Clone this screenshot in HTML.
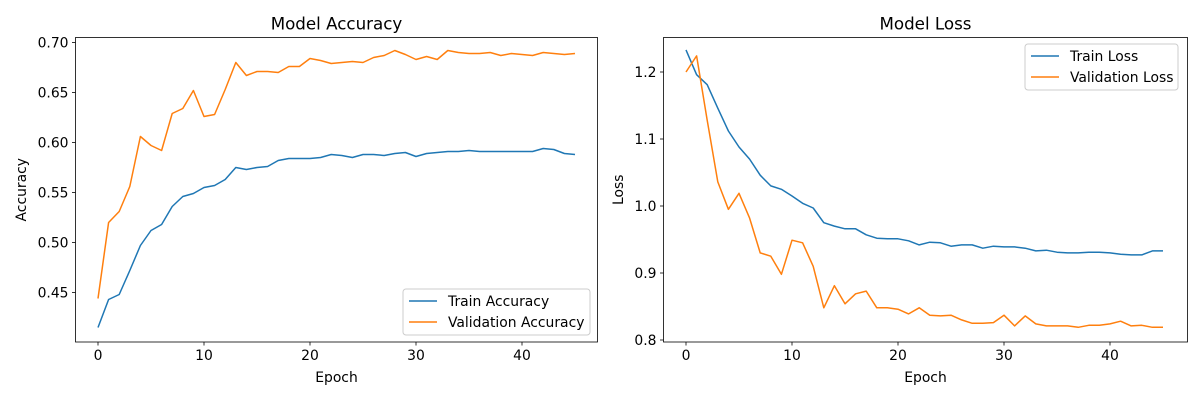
<!DOCTYPE html>
<html><head><meta charset="utf-8"><style>
body{margin:0;background:#fff;}
svg text{font-family:"DejaVu Sans","Liberation Sans",sans-serif;fill:#000;}
</style></head><body>
<svg id="fig" width="1200" height="400" xmlns="http://www.w3.org/2000/svg"></svg>
<script>
const epochs = Array.from({length:46},(_,i)=>i);
const trainAcc=[0.415,0.443,0.448,0.472,0.497,0.512,0.518,0.536,0.546,0.549,0.555,0.557,0.563,0.575,0.573,0.575,0.576,0.582,0.584,0.584,0.584,0.585,0.588,0.587,0.585,0.588,0.588,0.587,0.589,0.590,0.586,0.589,0.590,0.591,0.591,0.592,0.591,0.591,0.591,0.591,0.591,0.591,0.594,0.593,0.589,0.588];
const valAcc=[0.444,0.520,0.531,0.556,0.606,0.597,0.592,0.629,0.634,0.652,0.626,0.628,0.653,0.680,0.667,0.671,0.671,0.670,0.676,0.676,0.684,0.682,0.679,0.680,0.681,0.680,0.685,0.687,0.692,0.688,0.683,0.686,0.683,0.692,0.690,0.689,0.689,0.690,0.687,0.689,0.688,0.687,0.690,0.689,0.688,0.689];
const trainLoss=[1.233,1.196,1.181,1.146,1.112,1.088,1.070,1.046,1.030,1.025,1.015,1.004,0.997,0.975,0.970,0.966,0.966,0.957,0.952,0.951,0.951,0.948,0.942,0.946,0.945,0.940,0.942,0.942,0.937,0.940,0.939,0.939,0.937,0.933,0.934,0.931,0.930,0.930,0.931,0.931,0.930,0.928,0.927,0.927,0.933,0.933];
const valLoss=[1.200,1.224,1.128,1.036,0.995,1.019,0.982,0.930,0.925,0.898,0.949,0.945,0.910,0.848,0.881,0.854,0.869,0.873,0.848,0.848,0.846,0.839,0.848,0.837,0.836,0.837,0.830,0.825,0.825,0.826,0.837,0.821,0.836,0.824,0.821,0.821,0.821,0.819,0.822,0.822,0.824,0.828,0.821,0.822,0.819,0.819];
const xTicks=[0,10,20,30,40];
const accTicks=[0.45,0.50,0.55,0.60,0.65,0.70];
const lossTicks=[0.8,0.9,1.0,1.1,1.2];

const NS="http://www.w3.org/2000/svg";
const svg=document.getElementById('fig');
function el(tag,attrs,parent){const e=document.createElementNS(NS,tag);for(const k in attrs)e.setAttribute(k,attrs[k]);(parent||svg).appendChild(e);return e;}

function panel(o){
  const g=el('g',{});
  
  
  const xs=v=>o.x0+(v-0)*o.xk;
  const ys=v=>o.yRef+(o.vRef-v)*o.yk;
  // series
  o.series.forEach(s=>{
    const p=el('polyline',{points:s.data.map((v,i)=>xs(epochs[i]).toFixed(1)+','+ys(v).toFixed(1)).join(' '),fill:'none',stroke:s.color,'stroke-width':1.5,'stroke-linejoin':'round'},g);
    
    
  });
  // frame
  const f=el('rect',{x:o.L,y:o.T,width:o.R-o.L,height:o.B-o.T,fill:'none',stroke:'#000','stroke-width':0.8},g);
  
  
  xTicks.forEach(t=>{
    const x=xs(t);
    el('line',{x1:x,x2:x,y1:o.B,y2:o.B+3.5,stroke:'#000','stroke-width':0.8},g);
    const tx=el('text',{x:x,y:o.B+18,'text-anchor':'middle','font-size':13.9},g);
    tx.textContent=t;
    
    
  });
  o.yTicks.forEach(t=>{
    const y=ys(t);
    el('line',{x1:o.L-3.5,x2:o.L,y1:y,y2:y,stroke:'#000','stroke-width':0.8},g);
    const tx=el('text',{x:o.L-7,y:y+5,'text-anchor':'end','font-size':13.9},g);
    tx.textContent=t.toFixed(o.dec);
    
    
  });
  const ti=el('text',{x:(o.L+o.R)/2,y:o.T-8,'text-anchor':'middle','font-size':16.7},g);
  ti.textContent=o.title;
  
  
  const xl=el('text',{x:(o.L+o.R)/2,y:382,'text-anchor':'middle','font-size':13.9},g);
  xl.textContent='Epoch';
  
  
  const yl=el('text',{x:0,y:0,'text-anchor':'middle','font-size':13.9,transform:`translate(${o.ylx},${(o.T+o.B)/2}) rotate(-90)`},g);
  yl.textContent=o.ylabel;
  
  
  // legend
  const lg=el('g',{},g);
  
  
  el('rect',{x:o.lx,y:o.ly,width:o.lw,height:46,rx:3,fill:'#fff','fill-opacity':0.8,stroke:'#ccc','stroke-width':1},lg);
  o.series.forEach((s,i)=>{
    const yy=o.ly+12+i*21;
    const ln=el('line',{x1:o.lx+6,x2:o.lx+34,y1:yy,y2:yy,stroke:s.color,'stroke-width':1.5},lg);
    
    
    const t=el('text',{x:o.lx+45,y:yy+5,'font-size':13.9},lg);
    t.textContent=s.label;
    
    
  });
}
panel({name:'accuracy-chart',L:75.5,R:597.5,T:37.5,B:342,x0:98,xk:10.6,yRef:42.5,vRef:0.70,yk:1000,yTicks:accTicks,dec:2,title:'Model Accuracy',ylabel:'Accuracy',ylx:26,lx:403,ly:289,lw:187,
  series:[{id:'train-accuracy-line',data:trainAcc,color:'#1f77b4',label:'Train Accuracy'},{id:'validation-accuracy-line',data:valAcc,color:'#ff7f0e',label:'Validation Accuracy'}]});
panel({name:'loss-chart',L:663.5,R:1187.5,T:37.5,B:342,x0:686,xk:10.6,yRef:72,vRef:1.2,yk:670,yTicks:lossTicks,dec:1,title:'Model Loss',ylabel:'Loss',ylx:623,lx:1025,ly:44,lw:153,
  series:[{id:'train-loss-line',data:trainLoss,color:'#1f77b4',label:'Train Loss'},{id:'validation-loss-line',data:valLoss,color:'#ff7f0e',label:'Validation Loss'}]});
</script>
</body></html>
